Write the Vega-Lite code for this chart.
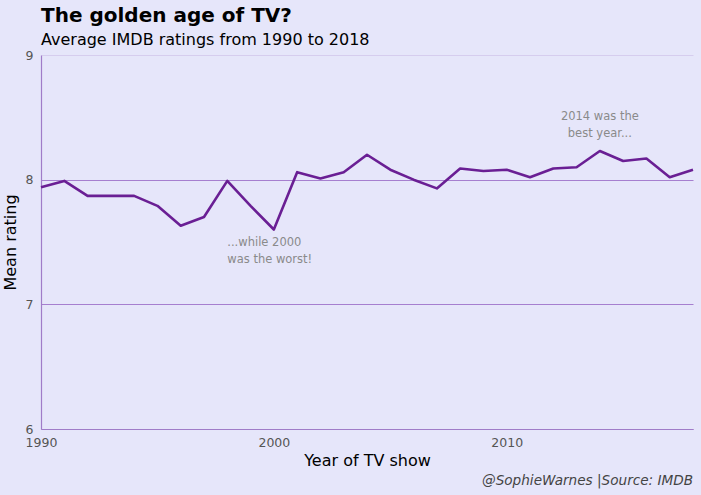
{
  "$schema": "https://vega.github.io/schema/vega-lite/v6.json",
  "width": 652,
  "height": 374,
  "autosize": {"type": "none"},
  "padding": {"left": 41, "top": 55, "right": 8, "bottom": 66},
  "background": "#e6e6fa",
  "config": {
    "font": "DejaVu Sans",
    "view": {"stroke": null},
    "text": {"font": "DejaVu Sans"}
  },
  "title": {
    "text": "The golden age of TV?",
    "subtitle": "Average IMDB ratings from 1990 to 2018",
    "anchor": "start",
    "frame": "group",
    "font": "DejaVu Sans",
    "fontSize": 20,
    "fontWeight": "bold",
    "color": "#000000",
    "subtitleFont": "DejaVu Sans",
    "subtitleFontSize": 16,
    "subtitleColor": "#000000",
    "subtitlePadding": 6,
    "offset": 1
  },
  "datasets": {
    "ratings": [
      {"year": 1990, "rating": 7.94},
      {"year": 1991, "rating": 7.99},
      {"year": 1992, "rating": 7.87},
      {"year": 1993, "rating": 7.87},
      {"year": 1994, "rating": 7.87},
      {"year": 1995, "rating": 7.79},
      {"year": 1996, "rating": 7.63},
      {"year": 1997, "rating": 7.70},
      {"year": 1998, "rating": 7.99},
      {"year": 1999, "rating": 7.79},
      {"year": 2000, "rating": 7.60},
      {"year": 2001, "rating": 8.06},
      {"year": 2002, "rating": 8.01},
      {"year": 2003, "rating": 8.06},
      {"year": 2004, "rating": 8.20},
      {"year": 2005, "rating": 8.08},
      {"year": 2006, "rating": 8.00},
      {"year": 2007, "rating": 7.93},
      {"year": 2008, "rating": 8.09},
      {"year": 2009, "rating": 8.07},
      {"year": 2010, "rating": 8.08},
      {"year": 2011, "rating": 8.02},
      {"year": 2012, "rating": 8.09},
      {"year": 2013, "rating": 8.10},
      {"year": 2014, "rating": 8.23},
      {"year": 2015, "rating": 8.15},
      {"year": 2016, "rating": 8.17},
      {"year": 2017, "rating": 8.02},
      {"year": 2018, "rating": 8.08}
    ],
    "bestNote": [
      {"year": 2014, "rating": 8.5, "label": ["2014 was the", "best year..."]}
    ],
    "worstNote": [
      {"year": 1998, "rating": 7.49, "label": ["...while 2000", "was the worst!"]}
    ],
    "caption": [
      {"year": 2018, "rating": 6, "label": "@SophieWarnes |Source: IMDB"}
    ]
  },
  "layer": [
    {
      "data": {"name": "ratings"},
      "mark": {"type": "line", "color": "#6a1f94", "strokeWidth": 2.6, "strokeJoin": "round"},
      "encoding": {
        "x": {
          "field": "year",
          "type": "quantitative",
          "scale": {"domain": [1990, 2018], "nice": false, "zero": false},
          "axis": {
            "values": [1990, 2000, 2010],
            "format": "d",
            "title": "Year of TV show",
            "titleFontSize": 16,
            "titleFontWeight": "normal",
            "titleColor": "#000000",
            "titlePadding": 4,
            "labelFontSize": 12.5,
            "labelColor": "#555555",
            "labelPadding": 7,
            "ticks": false,
            "grid": false,
            "domainColor": "#a07cc8",
            "domainWidth": 1.2,
            "labelFlush": false
          }
        },
        "y": {
          "field": "rating",
          "type": "quantitative",
          "scale": {"domain": [6, 9], "nice": false, "zero": false},
          "axis": {
            "values": [6, 7, 8, 9],
            "format": "d",
            "title": "Mean rating",
            "titleFontSize": 16,
            "titleFontWeight": "normal",
            "titleColor": "#000000",
            "titlePadding": 7,
            "labelFontSize": 12.5,
            "labelColor": "#555555",
            "labelPadding": 8,
            "ticks": false,
            "grid": true,
            "gridColor": {"condition": {"test": "datum.value == 9", "value": "#d6cdee"}, "value": "#a67fcf"},
            "gridWidth": 1.2,
            "domainColor": "#a07cc8",
            "domainWidth": 1.2,
            "labelFlush": false
          }
        }
      }
    },
    {
      "data": {"name": "bestNote"},
      "mark": {"type": "text", "align": "center", "baseline": "middle", "fontSize": 11.5, "color": "#8a8a8a", "lineHeight": 17},
      "encoding": {
        "x": {"field": "year", "type": "quantitative"},
        "y": {"field": "rating", "type": "quantitative"},
        "text": {"field": "label"}
      }
    },
    {
      "data": {"name": "worstNote"},
      "mark": {"type": "text", "align": "left", "baseline": "middle", "fontSize": 11.5, "color": "#8a8a8a", "lineHeight": 17},
      "encoding": {
        "x": {"field": "year", "type": "quantitative"},
        "y": {"field": "rating", "type": "quantitative"},
        "text": {"field": "label"}
      }
    },
    {
      "data": {"name": "caption"},
      "mark": {"type": "text", "align": "right", "baseline": "alphabetic", "fontSize": 13.6, "fontStyle": "italic", "color": "#444444", "dy": 56},
      "encoding": {
        "x": {"field": "year", "type": "quantitative"},
        "y": {"field": "rating", "type": "quantitative"},
        "text": {"field": "label"}
      }
    }
  ]
}
